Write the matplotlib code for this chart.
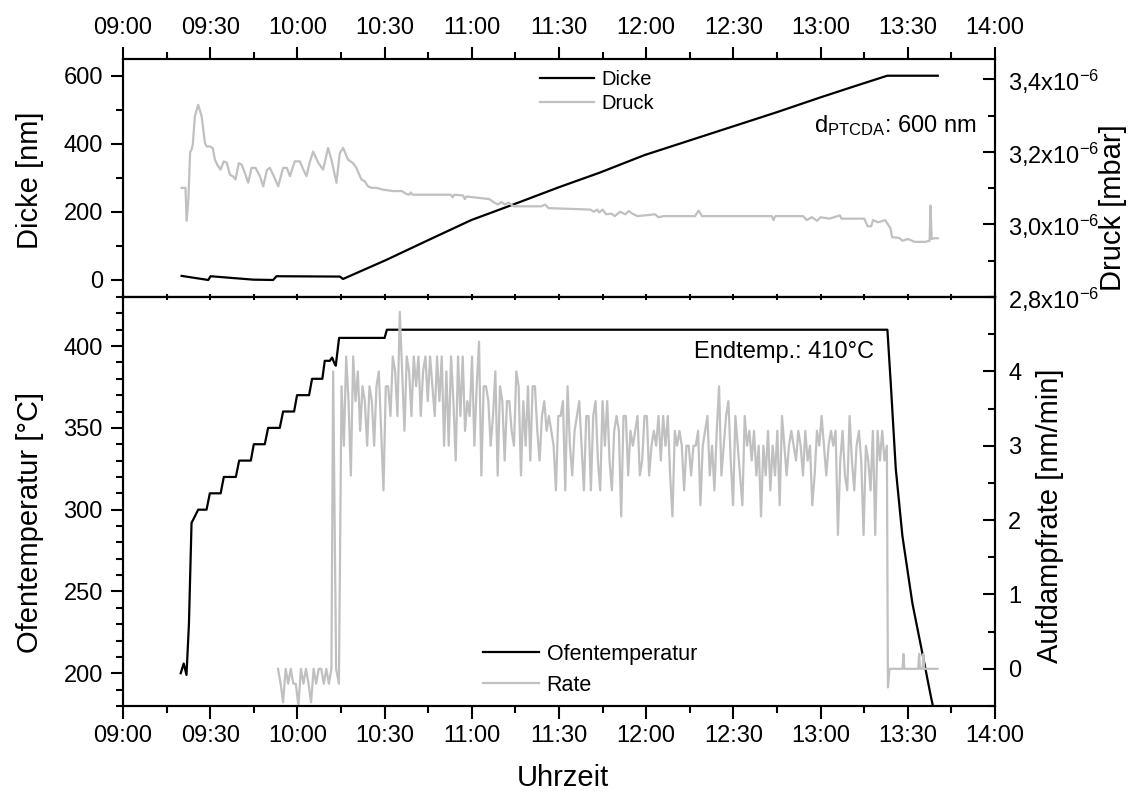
import numpy as np
import matplotlib
matplotlib.use("Agg")
from matplotlib import pyplot as plt
from matplotlib.ticker import MultipleLocator, FuncFormatter, FixedLocator
from matplotlib.transforms import IdentityTransform

plt.rcParams['font.family'] = ['Liberation Sans', 'DejaVu Sans']
plt.rcParams['mathtext.default'] = 'regular'

# Zeit in Stunden (9.5 = 09:30)

# Schichtdicke [nm]
dicke_t = [9.336, 9.489, 9.502, 9.746, 9.861, 9.880, 10.243, 10.262, 10.51, 10.75, 10.997,
           11.255, 11.497, 11.732, 11.991, 12.25, 12.491, 12.75, 12.997, 13.2, 13.382, 13.672]
dicke = [12, 0, 11, 1, 0, 11, 10, 3, 59, 117, 176, 225, 272, 315, 367, 410, 450, 493, 536, 570, 600, 600]

# Druck [1e-6 mbar]
druck_t = [9.336, 9.358, 9.365, 9.375, 9.385, 9.393, 9.400, 9.412, 9.431, 9.451, 9.470, 9.480,
           9.500, 9.515, 9.527, 9.540, 9.559, 9.578, 9.595, 9.613, 9.630, 9.645, 9.664, 9.680,
           9.699, 9.718, 9.737, 9.760, 9.785, 9.804, 9.825, 9.842, 9.865, 9.890, 9.918, 9.940,
           9.957, 9.985, 10.014, 10.035, 10.052, 10.070, 10.090, 10.120, 10.147, 10.176, 10.195,
           10.224, 10.243, 10.262, 10.290, 10.319, 10.338, 10.367, 10.386, 10.405, 10.424, 10.453,
           10.490, 10.55, 10.60, 10.62, 10.64, 10.65, 10.66, 10.88, 10.89, 10.90, 10.95, 10.96,
           10.97, 11.10, 11.13, 11.15, 11.17, 11.19, 11.21, 11.24, 11.40, 11.42, 11.44, 11.68,
           11.70, 11.72, 11.73, 11.75, 11.77, 11.80, 11.82, 11.85, 11.88, 11.90, 11.92, 11.95,
           12.05, 12.07, 12.10, 12.28, 12.30, 12.32, 12.34, 12.72, 12.73, 12.74, 12.90, 12.92,
           12.95, 12.98, 13.00, 13.05, 13.11, 13.12, 13.25, 13.27, 13.29, 13.30, 13.33, 13.37,
           13.40, 13.41, 13.45, 13.47, 13.50, 13.54, 13.60, 13.625, 13.630, 13.637, 13.655, 13.672]
druck = [3.101, 3.101, 3.010, 3.070, 3.200, 3.206, 3.220, 3.298, 3.330, 3.298, 3.224, 3.215,
         3.215, 3.210, 3.179, 3.165, 3.151, 3.174, 3.170, 3.137, 3.133, 3.124, 3.169, 3.165,
         3.142, 3.115, 3.156, 3.156, 3.133, 3.105, 3.150, 3.156, 3.133, 3.105, 3.156, 3.156,
         3.133, 3.174, 3.174, 3.150, 3.133, 3.170, 3.201, 3.170, 3.151, 3.211, 3.179,
         3.115, 3.197, 3.211, 3.179, 3.169, 3.156, 3.124, 3.119, 3.105, 3.101, 3.101,
         3.096, 3.092, 3.092, 3.085, 3.082, 3.088, 3.082, 3.082, 3.075, 3.082, 3.080, 3.070,
         3.077, 3.070, 3.060, 3.055, 3.062, 3.055, 3.060, 3.050, 3.050, 3.055, 3.045, 3.041,
         3.035, 3.041, 3.033, 3.041, 3.028, 3.030, 3.023, 3.035, 3.028, 3.037, 3.030, 3.023,
         3.028, 3.020, 3.023, 3.023, 3.038, 3.023, 3.023, 3.023, 3.012, 3.023, 3.023, 3.012,
         3.020, 3.010, 3.020, 3.016, 3.025, 3.016, 3.016, 2.995, 2.995, 3.012, 3.006, 3.012,
         2.990, 2.965, 2.963, 2.955, 2.960, 2.952, 2.952, 2.955, 3.052, 2.960, 2.962, 2.962]

# Ofentemperatur [°C]
temp_t = [9.331, 9.348, 9.364, 9.378, 9.393, 9.403, 9.431, 9.479, 9.498, 9.560, 9.578, 9.647,
          9.666, 9.733, 9.750, 9.813, 9.832, 9.899, 9.918, 9.981, 9.998, 10.067, 10.084, 10.143,
          10.157, 10.186, 10.199, 10.21, 10.22, 10.239, 10.50, 10.513, 13.383, 13.403, 13.431,
          13.469, 13.526, 13.584, 13.632, 13.66]
temp = [200, 206, 199, 230, 292, 294, 300, 300, 310, 310, 320, 320, 330, 330, 340, 340, 350, 350,
        360, 360, 370, 370, 380, 380, 391, 391, 393, 390, 388, 405, 405, 410, 410, 376, 325, 284,
        243, 212, 186, 172]

# Aufdampfrate [nm/min]
rate_pre = [0, -0.2, -0.45, 0, -0.2, 0, -0.2, -0.2, -0.5, 0, -0.2, 0, -0.2, -0.45, 0, -0.2, 0, 0,
            -0.2, 0, -0.2, 0]
rate_spike_t = [10.205, 10.222, 10.238]
rate_spike = [4.0, 0.0, -0.2]
rate_main = [3.8, 3.0, 4.2, 3.6, 2.6, 4.2, 3.6, 4.0, 3.2, 3.8, 3.6, 3.0, 3.8, 3.6, 3.0, 3.8, 4.0,
             3.2, 2.4, 3.8, 3.8, 3.4, 4.2, 4.0, 3.4, 4.8, 4.0, 3.2, 4.2, 4.0, 3.4, 4.2, 3.8, 4.2,
             3.4, 4.0, 4.2, 3.6, 4.2, 3.8, 3.4, 4.2, 3.6, 4.2, 3.0,
             4.0, 3.0, 4.2, 3.6, 2.8, 4.2, 3.4, 4.2, 3.2, 3.6, 3.4, 4.2, 3.0, 3.8, 4.4, 2.6, 3.8,
             3.8, 3.6, 3.0, 3.4, 4.0, 2.6, 3.8, 3.6, 2.8, 3.6, 3.6, 3.2, 3.0, 4.0, 3.8, 2.6, 3.6,
             3.0, 3.8, 2.8, 3.8, 3.8, 3.2, 2.8, 3.4, 3.6, 3.2, 3.4, 3.2, 3.0, 2.4, 3.4, 3.4, 3.6,
             2.4, 3.8, 3.0, 2.6, 3.2, 3.4, 3.6, 3.0, 2.4, 3.4, 3.4, 2.4, 3.4, 3.6, 2.8, 2.4, 3.6,
             3.0, 3.6, 2.8, 2.4, 3.2, 3.4, 3.2, 2.05, 3.4, 3.4, 2.6, 3.2, 3.0, 3.2, 3.4, 2.6, 2.8,
             3.4,
             3.4, 2.6, 3.0, 3.2, 3.0, 3.4, 2.8, 3.4, 3.0, 3.4, 2.6, 2.05, 3.2, 3.0, 3.2, 3.0, 2.4,
             3.0, 3.0, 2.6, 3.0, 3.0, 3.2, 2.2, 3.0, 3.2, 3.4, 2.6, 3.0, 2.4, 3.2, 3.8, 2.6, 3.0,
             3.4, 3.6, 2.8, 2.2, 3.4, 3.0, 2.6, 2.2, 3.4, 3.0, 3.2, 2.8, 3.2, 2.6, 3.0, 2.05, 3.0,
             2.6, 3.2, 2.4, 3.0, 2.6, 3.2, 2.2, 3.4, 3.0, 2.6, 3.0, 3.2, 3.0, 2.8, 3.2, 3.0, 2.6,
             3.2, 2.8, 3.0, 2.2, 2.6, 3.2, 3.0, 3.4, 3.0, 2.6, 3.0, 3.2, 3.0,
             3.2, 1.8, 2.8, 3.2, 2.6, 2.4, 3.4, 2.8, 2.4, 3.0, 3.2, 2.8, 1.8, 3.0, 2.8, 2.4, 3.2,
             1.8, 3.2, 2.8, 3.2, 2.8, 3.0]
rate_post_t = [13.386, 13.395, 13.40, 13.47, 13.475, 13.48, 13.56, 13.565, 13.57, 13.585,
               13.589, 13.594, 13.67]
rate_post = [-0.25, 0, 0, 0, 0.2, 0, 0, 0.2, 0, 0, 0.2, 0, 0]

# gleichmaessig abgetastet
rate_t = np.concatenate([np.linspace(9.889, 10.195, len(rate_pre)), rate_spike_t,
                         np.linspace(10.253, 13.38, len(rate_main)), rate_post_t])
rate = np.concatenate([rate_pre, rate_spike, rate_main, rate_post])

grau = '#c0c0c0'
H = 794.  # Bildhoehe in Pixel


def hhmm(x, pos):
    m = int(round(x * 60))
    return "%02d:%02d" % (m // 60, m % 60)


def druck_fmt(v, pos):
    return ("%.1f" % (v * 1e6)).replace('.', ',') + r"x10$^{-6}$"


fig = plt.figure(figsize=(11.3, 7.94), dpi=100)
L = 123 / 1130.
W = (995 - 123) / 1130.
ax1 = fig.add_axes([L, 1 - 297 / H, W, (297 - 58.7) / H])
ax2 = fig.add_axes([L, 1 - 706 / H, W, (706 - 297) / H])
ax1r = ax1.twinx()
ax2r = ax2.twinx()

ax1.plot(dicke_t, dicke, color='black', lw=1.6, label='Dicke')
ax1r.plot(druck_t, np.array(druck) * 1e-6, color=grau, lw=1.6, label='Druck')
ax2.plot(temp_t, temp, color='black', lw=1.6, label='Ofentemperatur')
ax2r.plot(rate_t, rate, color=grau, lw=1.6, label='Rate')

for ax in (ax1, ax2):
    ax.set_xlim(9, 14)
    ax.xaxis.set_major_locator(MultipleLocator(0.5))
    ax.xaxis.set_minor_locator(MultipleLocator(0.25))
    ax.xaxis.set_major_formatter(FuncFormatter(hhmm))

ax1.set_ylim(-50, 650)
ax1.yaxis.set_major_locator(MultipleLocator(200))
ax1.yaxis.set_minor_locator(MultipleLocator(100))
ax1r.set_ylim(2.8e-6, 3.457e-6)
ax1r.yaxis.set_major_locator(MultipleLocator(0.2e-6))
ax1r.yaxis.set_minor_locator(MultipleLocator(0.1e-6))
ax1r.yaxis.set_major_formatter(FuncFormatter(druck_fmt))

ax2.set_ylim(180, 430)
ax2.yaxis.set_major_locator(MultipleLocator(50))
ax2.yaxis.set_minor_locator(MultipleLocator(10))
ax2r.set_ylim(-0.5, 5.0)
ax2r.yaxis.set_major_locator(FixedLocator([0, 1, 2, 3, 4]))
ax2r.yaxis.set_minor_locator(MultipleLocator(0.5))

fs_tick = 17
# Ticks
ax1.tick_params(axis='x', which='both', top=True, bottom=False, labeltop=True,
                labelbottom=False, direction='out', labelsize=fs_tick, pad=5)
ax2.tick_params(axis='x', which='both', top=False, bottom=True, direction='out',
                labelsize=fs_tick, pad=5)
for ax in (ax1, ax2):
    ax.tick_params(axis='y', which='both', left=True, right=False, direction='out',
                   labelsize=fs_tick, pad=5.5)
    ax.tick_params(which='major', length=9, width=1.5)
    ax.tick_params(which='minor', length=5, width=1.5)
for ax in (ax1r, ax2r):
    ax.tick_params(axis='y', which='both', right=True, left=False, direction='in',
                   labelsize=fs_tick, pad=9.5)
    ax.tick_params(which='major', length=9, width=1.5)
    ax.tick_params(which='minor', length=5, width=1.5)

# kleine Striche an der Trennlinie
ax1r.xaxis.set_visible(True)
ax1r.tick_params(axis='x', which='both', bottom=True, top=False, labelbottom=False,
                 labeltop=False, direction='inout', length=4, width=1.5)

for ax in (ax1, ax2, ax1r, ax2r):
    for sp in ax.spines.values():
        sp.set_linewidth(1.5)

# Achsenbeschriftungen, Position in Pixel (Mitte des Textes)
fs_lab = 21
pix = IdentityTransform()
ax1.set_ylabel('Dicke [nm]', fontsize=fs_lab)
ax1.yaxis.set_label_coords(30, H - 180, transform=pix)
ax2.set_ylabel('Ofentemperatur [°C]', fontsize=fs_lab)
ax2.yaxis.set_label_coords(30, H - 522, transform=pix)
ax1r.set_ylabel('Druck [mbar]', fontsize=fs_lab)
ax1r.yaxis.set_label_coords(1113, H - 208, transform=pix)
ax2r.set_ylabel('Aufdampfrate [nm/min]', fontsize=fs_lab)
ax2r.yaxis.set_label_coords(1050, H - 516, transform=pix)
ax2.set_xlabel('Uhrzeit', fontsize=fs_lab)
ax2.xaxis.set_label_coords(563, H - 778, transform=pix)
for lab in (ax1.yaxis.label, ax2.yaxis.label, ax1r.yaxis.label, ax2r.yaxis.label,
            ax2.xaxis.label):
    lab.set_va('center')
    lab.set_ha('center')

ax1.text(0.979, 0.694, r'd$_{PTCDA}$: 600 nm', transform=ax1.transAxes, ha='right',
         va='baseline', fontsize=17)
ax2.text(0.861, 0.850, 'Endtemp.: 410°C', transform=ax2.transAxes, ha='right',
         va='baseline', fontsize=17)

h1 = ax1.get_lines() + ax1r.get_lines()
fig.legend(h1, [l.get_label() for l in h1], loc='upper left',
           bbox_to_anchor=(540 / 1130., 1 - 70 / H), frameon=False, fontsize=14.5,
           handlelength=2.7, handletextpad=0.35, labelspacing=0.25, borderpad=0,
           borderaxespad=0)
h2 = ax2.get_lines() + ax2r.get_lines()
fig.legend(h2, [l.get_label() for l in h2], loc='upper left',
           bbox_to_anchor=(483 / 1130., 1 - 644 / H), frameon=False, fontsize=15.5,
           handlelength=2.6, handletextpad=0.35, labelspacing=0.45, borderpad=0,
           borderaxespad=0)

fig.savefig('out.png', dpi=100)
